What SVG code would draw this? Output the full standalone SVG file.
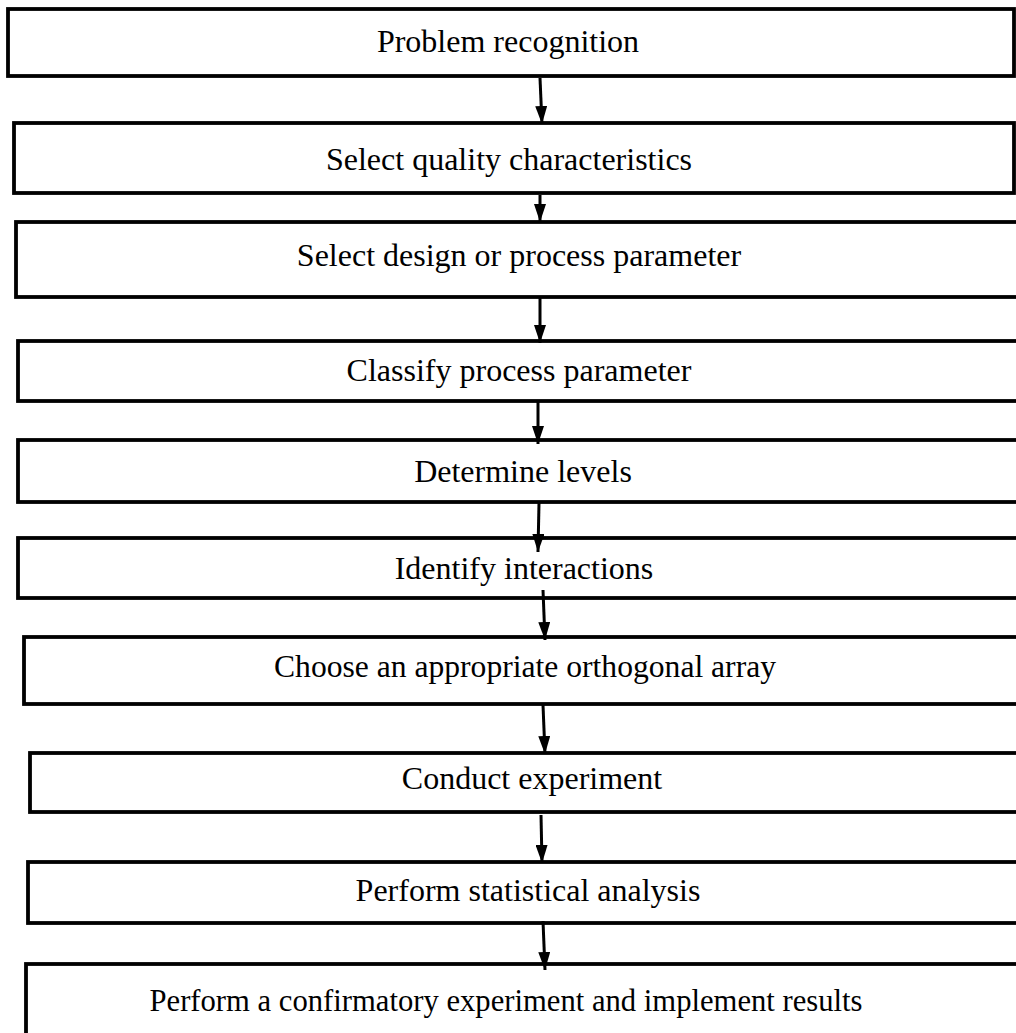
<svg xmlns="http://www.w3.org/2000/svg" width="1016" height="1033" viewBox="0 0 1016 1033">
<defs>
<marker id="ah" viewBox="0 0 18 12" refX="18" refY="6" markerWidth="18" markerHeight="12" markerUnits="userSpaceOnUse" orient="auto">
<path d="M0,0 L18,6 L0,12 Z" fill="#000"/>
</marker>
<style>
.box{fill:#fff;stroke:#000;stroke-width:3.8}
.lbl{font-family:"Liberation Serif","Times New Roman",serif;font-size:32px;fill:#000;text-anchor:middle}
.con{stroke:#000;stroke-width:3;fill:none;marker-end:url(#ah)}
</style>
</defs>
<rect width="1016" height="1033" fill="#fff"/>
<g id="n1"><rect class="box" x="8" y="9" width="1006" height="67"/><text class="lbl" x="508" y="52">Problem recognition</text></g>
<g id="n2"><rect class="box" x="14" y="123" width="1000" height="70"/><text class="lbl" x="509" y="170">Select quality characteristics</text></g>
<g id="n3"><rect class="box" x="16" y="222" width="1020" height="75"/><text class="lbl" x="519" y="266">Select design or process parameter</text></g>
<g id="n4"><rect class="box" x="18" y="341" width="1020" height="60"/><text class="lbl" x="519" y="381">Classify process parameter</text></g>
<g id="n5"><rect class="box" x="18" y="440" width="1020" height="62"/><text class="lbl" x="523" y="482">Determine levels</text></g>
<g id="n6"><rect class="box" x="18" y="538" width="1020" height="60"/><text class="lbl" x="524" y="579">Identify interactions</text></g>
<g id="n7"><rect class="box" x="24" y="637" width="1020" height="67"/><text class="lbl" x="525" y="677" textLength="502" lengthAdjust="spacingAndGlyphs">Choose an appropriate orthogonal array</text></g>
<g id="n8"><rect class="box" x="30" y="753" width="1020" height="59"/><text class="lbl" x="532" y="789">Conduct experiment</text></g>
<g id="n9"><rect class="box" x="28" y="862" width="1020" height="61"/><text class="lbl" x="528" y="901">Perform statistical analysis</text></g>
<g id="n10"><rect class="box" x="26" y="964" width="1020" height="100"/><text class="lbl" x="506" y="1011" textLength="713" lengthAdjust="spacingAndGlyphs">Perform a confirmatory experiment and implement results</text></g>
<g id="connectors">
<line class="con" x1="540" y1="78" x2="542" y2="124"/>
<line class="con" x1="540" y1="195" x2="540" y2="222"/>
<line class="con" x1="540" y1="297" x2="540" y2="343"/>
<line class="con" x1="538" y1="401" x2="538" y2="444"/>
<line class="con" x1="539" y1="503" x2="538" y2="552"/>
<line class="con" x1="543" y1="590" x2="545" y2="640"/>
<line class="con" x1="543" y1="705" x2="545" y2="754"/>
<line class="con" x1="541" y1="815" x2="542" y2="863"/>
<line class="con" x1="543" y1="921" x2="545" y2="970"/>
</g>
</svg>
